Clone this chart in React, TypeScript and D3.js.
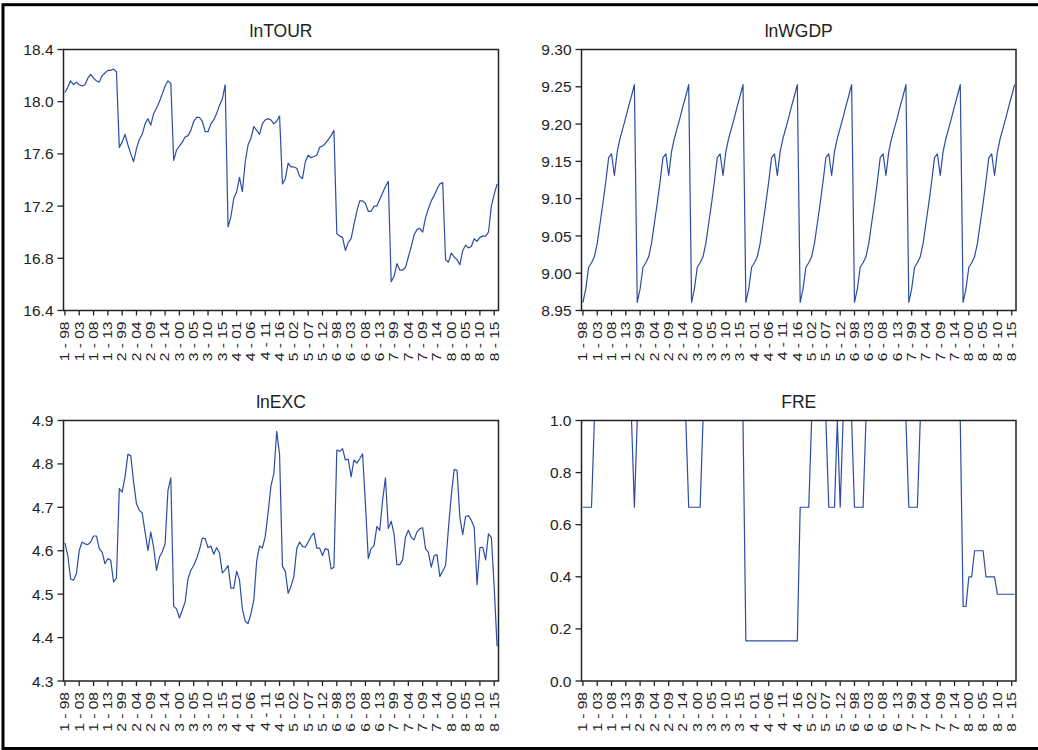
import React, { useEffect, useRef } from 'react';
import * as d3 from 'd3';

// panel data: 8 cross-sections x 19 years (1998-2016)
const crossSections = [1, 2, 3, 4, 5, 6, 7, 8];
const years = ['98', '99', '00', '01', '02', '03', '04', '05', '06', '07', '08', '09', '10', '11', '12', '13', '14', '15', '16'];

const xTickLabels = [
  '1 - 98', '1 - 03', '1 - 08', '1 - 13', '2 - 99', '2 - 04', '2 - 09', '2 - 14',
  '3 - 00', '3 - 05', '3 - 10', '3 - 15', '4 - 01', '4 - 06', '4 - 11', '4 - 16',
  '5 - 02', '5 - 07', '5 - 12', '6 - 98', '6 - 03', '6 - 08', '6 - 13', '7 - 99',
  '7 - 04', '7 - 09', '7 - 14', '8 - 00', '8 - 05', '8 - 10', '8 - 15',
];

const lnTOUR = [
  18.07, 18.11, 18.16, 18.13, 18.15, 18.13, 18.12, 18.13, 18.18, 18.21, 18.18, 18.16, 18.15, 18.20, 18.22, 18.24, 18.24, 18.25, 18.23,
  17.65, 17.69, 17.75, 17.67, 17.60, 17.54, 17.64, 17.71, 17.75, 17.83, 17.87, 17.82, 17.91, 17.95, 18.00, 18.06, 18.12, 18.16, 18.14,
  17.55, 17.63, 17.66, 17.69, 17.73, 17.74, 17.78, 17.85, 17.88, 17.88, 17.85, 17.77, 17.77, 17.83, 17.86, 17.91, 17.97, 18.02, 18.13,
  17.04, 17.12, 17.26, 17.31, 17.42, 17.31, 17.54, 17.67, 17.72, 17.81, 17.78, 17.75, 17.83, 17.86, 17.87, 17.86, 17.83, 17.85, 17.89,
  17.37, 17.41, 17.53, 17.50, 17.50, 17.49, 17.43, 17.41, 17.54, 17.59, 17.57, 17.58, 17.59, 17.65, 17.66, 17.68, 17.71, 17.74, 17.78,
  16.99, 16.97, 16.96, 16.86, 16.92, 16.95, 17.06, 17.16, 17.24, 17.24, 17.22, 17.16, 17.16, 17.20, 17.20, 17.25, 17.30, 17.35, 17.39,
  16.62, 16.66, 16.76, 16.71, 16.71, 16.73, 16.81, 16.89, 16.98, 17.02, 17.03, 17.00, 17.11, 17.18, 17.24, 17.28, 17.33, 17.37, 17.38,
  16.79, 16.77, 16.84, 16.81, 16.79, 16.75, 16.86, 16.90, 16.88, 16.89, 16.95, 16.93, 16.96, 16.97, 16.97, 17.00, 17.20, 17.29, 17.37,
];

// world GDP is the same for every cross-section
const lnWGDPByYear = [
  8.961, 8.979, 9.008, 9.014, 9.022, 9.040, 9.067, 9.094, 9.123, 9.155,
  9.160, 9.131, 9.163, 9.181, 9.195, 9.209, 9.224, 9.238, 9.253,
];

const lnEXC = [
  4.618, 4.589, 4.535, 4.532, 4.547, 4.601, 4.620, 4.616, 4.614, 4.620, 4.634, 4.634, 4.605, 4.597, 4.570, 4.582, 4.578, 4.528, 4.537,
  4.743, 4.735, 4.770, 4.822, 4.819, 4.758, 4.708, 4.693, 4.687, 4.643, 4.601, 4.643, 4.608, 4.555, 4.585, 4.597, 4.616, 4.739, 4.768,
  4.472, 4.466, 4.445, 4.463, 4.482, 4.535, 4.555, 4.566, 4.582, 4.602, 4.629, 4.628, 4.607, 4.611, 4.592, 4.607, 4.595, 4.549, 4.556,
  4.566, 4.514, 4.514, 4.553, 4.533, 4.466, 4.438, 4.432, 4.455, 4.486, 4.576, 4.611, 4.606, 4.633, 4.688, 4.750, 4.777, 4.875, 4.822,
  4.564, 4.553, 4.502, 4.518, 4.541, 4.605, 4.620, 4.610, 4.608, 4.620, 4.633, 4.641, 4.606, 4.606, 4.589, 4.605, 4.602, 4.558, 4.562,
  4.832, 4.829, 4.835, 4.809, 4.811, 4.770, 4.809, 4.802, 4.812, 4.823, 4.708, 4.582, 4.605, 4.612, 4.656, 4.647, 4.716, 4.768, 4.651,
  4.668, 4.639, 4.568, 4.568, 4.579, 4.631, 4.647, 4.631, 4.625, 4.643, 4.651, 4.653, 4.605, 4.597, 4.562, 4.589, 4.591, 4.541, 4.553,
  4.566, 4.651, 4.727, 4.787, 4.786, 4.677, 4.637, 4.679, 4.681, 4.670, 4.654, 4.522, 4.607, 4.608, 4.579, 4.639, 4.631, 4.516, 4.380,
];

const FRE = [
  0.667, 0.667, 0.667, 0.667, 1, 1, 1, 1, 1, 1, 1, 1, 1, 1, 1, 1, 1, 1, 0.667,
  1, 1, 1, 1, 1, 1, 1, 1, 1, 1, 1, 1, 1, 1, 1, 1, 1, 1, 0.667,
  0.667, 0.667, 0.667, 0.667, 1, 1, 1, 1, 1, 1, 1, 1, 1, 1, 1, 1, 1, 1, 1,
  0.154, 0.154, 0.154, 0.154, 0.154, 0.154, 0.154, 0.154, 0.154, 0.154, 0.154, 0.154, 0.154, 0.154, 0.154, 0.154, 0.154, 0.154, 0.154,
  0.667, 0.667, 0.667, 0.667, 1, 1, 1, 1, 1, 1, 0.667, 0.667, 0.667, 1, 0.667, 1, 1, 1, 1,
  0.667, 0.667, 0.667, 0.667, 1, 1, 1, 1, 1, 1, 1, 1, 1, 1, 1, 1, 1, 1, 1,
  0.667, 0.667, 0.667, 0.667, 1, 1, 1, 1, 1, 1, 1, 1, 1, 1, 1, 1, 1, 1, 1,
  0.286, 0.286, 0.4, 0.4, 0.5, 0.5, 0.5, 0.5, 0.4, 0.4, 0.4, 0.4, 0.333, 0.333, 0.333, 0.333, 0.333, 0.333, 0.333,
];

const tourTicks = [16.4, 16.8, 17.2, 17.6, 18.0, 18.4];
const wgdpTicks = [8.95, 9.0, 9.05, 9.1, 9.15, 9.2, 9.25, 9.3];
const excTicks = [4.3, 4.4, 4.5, 4.6, 4.7, 4.8, 4.9];
const freTicks = [0, 0.2, 0.4, 0.6, 0.8, 1.0];

const lnWGDP = crossSections.flatMap(() => lnWGDPByYear);
const obsCount = crossSections.length * years.length;

const App = () => {
  const ref = useRef(null);

  useEffect(() => {
    const svg = d3.select(ref.current);
    svg.selectAll('*').remove();

    const font = '"Liberation Sans", Arial, sans-serif';
    const ink = '#222';
    const lineColor = '#2C4DA3';

    // outer frame
    svg.append('rect')
      .attr('x', 3).attr('y', 4.7)
      .attr('width', 1045).attr('height', 743.8)
      .attr('fill', 'none').attr('stroke', '#000').attr('stroke-width', 3);

    const cols = [[63.5, 498.5], [581.5, 1016]];
    const rows = [[49.5, 310.5], [420.5, 681]];

    const panels = [
      { title: 'lnTOUR', values: lnTOUR, ticks: tourTicks, fmt: '.1f', col: 0, row: 0 },
      { title: 'lnWGDP', values: lnWGDP, ticks: wgdpTicks, fmt: '.2f', col: 1, row: 0 },
      { title: 'lnEXC', values: lnEXC, ticks: excTicks, fmt: '.1f', col: 0, row: 1 },
      { title: 'FRE', values: FRE, ticks: freTicks, fmt: '.1f', col: 1, row: 1 },
    ];

    panels.forEach(p => {
      const [x0, x1] = cols[p.col];
      const [y0, y1] = rows[p.row];
      const g = svg.append('g');

      const x = d3.scaleLinear().domain([-0.5, obsCount - 0.5]).range([x0, x1]);
      const y = d3.scaleLinear()
        .domain([p.ticks[0], p.ticks[p.ticks.length - 1]])
        .range([y1, y0]);

      // title
      g.append('text')
        .attr('x', (x0 + x1) / 2).attr('y', y0 - 13)
        .attr('text-anchor', 'middle')
        .style('font-family', font).style('font-size', '17.5px')
        .attr('fill', ink)
        .text(p.title);

      // y ticks
      p.ticks.forEach(t => {
        g.append('line')
          .attr('x1', x0 - 6).attr('x2', x0)
          .attr('y1', y(t)).attr('y2', y(t))
          .attr('stroke', ink).attr('stroke-width', 1.3);
        g.append('text')
          .attr('x', x0 - 10).attr('y', y(t)).attr('dy', '0.36em')
          .attr('text-anchor', 'end')
          .style('font-family', font).style('font-size', '15.5px')
          .attr('fill', ink)
          .text(d3.format(p.fmt)(t));
      });

      // x ticks every 5 observations
      d3.range(0, obsCount, 5).forEach((idx, k) => {
        const xp = x(idx);
        g.append('line')
          .attr('x1', xp).attr('x2', xp)
          .attr('y1', y1).attr('y2', y1 + 5)
          .attr('stroke', ink).attr('stroke-width', 1.3);
        g.append('text')
          .attr('transform', `translate(${xp},${y1 + 11}) rotate(-90) scale(1.3,1)`)
          .attr('dy', '0.36em')
          .attr('text-anchor', 'end')
          .style('font-family', font).style('font-size', '12px')
          .attr('fill', ink)
          .text(xTickLabels[k]);
      });

      // series line
      const line = d3.line<number>()
        .x((d, i) => x(i))
        .y(d => y(d));
      g.append('path')
        .datum(p.values)
        .attr('d', line)
        .attr('fill', 'none')
        .attr('stroke', lineColor)
        .attr('stroke-width', 1.2)
        .attr('stroke-linejoin', 'round');

      // plot box
      g.append('rect')
        .attr('x', x0).attr('y', y0)
        .attr('width', x1 - x0).attr('height', y1 - y0)
        .attr('fill', 'none').attr('stroke', ink).attr('stroke-width', 1.5);
    });
  }, []);

  return (
    <svg
      ref={ref}
      width={1038}
      height={750}
      style={{ position: 'absolute', left: 0, top: 0, background: '#fff' }}
    />
  );
};

export default App;
